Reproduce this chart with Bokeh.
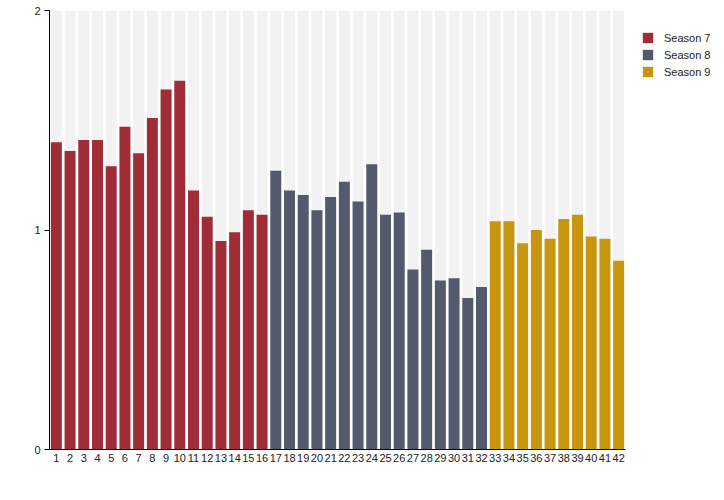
from bokeh.plotting import figure
from bokeh.models import ColumnDataSource, FactorRange, Range1d, FixedTicker, Legend, LegendItem
from bokeh.embed import file_html
from bokeh.resources import INLINE

episodes = [str(i) for i in range(1, 43)]
season7 = [1.40, 1.36, 1.41, 1.41, 1.29, 1.47, 1.35, 1.51, 1.64, 1.68,
           1.18, 1.06, 0.95, 0.99, 1.09, 1.07]
season8 = [1.27, 1.18, 1.16, 1.09, 1.15, 1.22, 1.13, 1.30, 1.07, 1.08,
           0.82, 0.91, 0.77, 0.78, 0.69, 0.74]
season9 = [1.04, 1.04, 0.94, 1.00, 0.96, 1.05, 1.07, 0.97, 0.96, 0.86]
season_names = ["Season 7", "Season 8", "Season 9"]
colors = ["#a02c38", "#535a6e", "#c8960e"]
y_ticks = [0, 1, 2]
y_max = 2

p = figure(x_range=FactorRange(*episodes), y_range=Range1d(0, y_max),
           width=715, height=490, output_backend="svg", toolbar_location=None,
           min_border_left=49, min_border_right=90, min_border_top=10, min_border_bottom=30)
p.frame_width = 576
p.frame_height = 439

bg = ColumnDataSource(dict(x=episodes, top=[y_max] * len(episodes)))
p.vbar(x="x", top="top", width=0.8, source=bg, fill_color="#f2f2f2", line_color=None)

renderers = []
start = 0
for name, vals, col in zip(season_names, [season7, season8, season9], colors):
    xs = episodes[start:start + len(vals)]
    start += len(vals)
    src = ColumnDataSource(dict(x=xs, top=vals))
    r = p.vbar(x="x", top="top", width=0.8, source=src, fill_color=col, line_color=None)
    renderers.append((name, r))

legend = Legend(items=[LegendItem(label=n, renderers=[r]) for n, r in renderers],
                location="top_left", padding=0, margin=0, spacing=4,
                glyph_width=13, glyph_height=13, label_standoff=10,
                label_text_font="Liberation Sans", label_text_font_size="11px",
                label_text_color="#222222", background_fill_alpha=0, border_line_color=None,
                label_height=13)
legend.location = (16, 371)
p.add_layout(legend, "right")

p.xgrid.grid_line_color = None
p.ygrid.grid_line_color = None
p.outline_line_color = None

p.yaxis.ticker = FixedTicker(ticks=y_ticks)
p.yaxis.minor_tick_line_color = None
p.yaxis.major_tick_out = 5
p.yaxis.major_tick_in = 0
p.yaxis.major_label_standoff = 4
p.yaxis.axis_line_color = "black"
p.yaxis.major_tick_line_color = "black"

p.xaxis.major_tick_line_color = None
p.xaxis.major_tick_out = 0
p.xaxis.major_label_standoff = 4
p.xaxis.axis_line_color = "black"

for ax in (p.xaxis, p.yaxis):
    ax.major_label_text_font = "Liberation Sans"
    ax.major_label_text_font_size = "11px"
    ax.major_label_text_color = "#222222"

open("out.html", "w").write(file_html(p, INLINE))
